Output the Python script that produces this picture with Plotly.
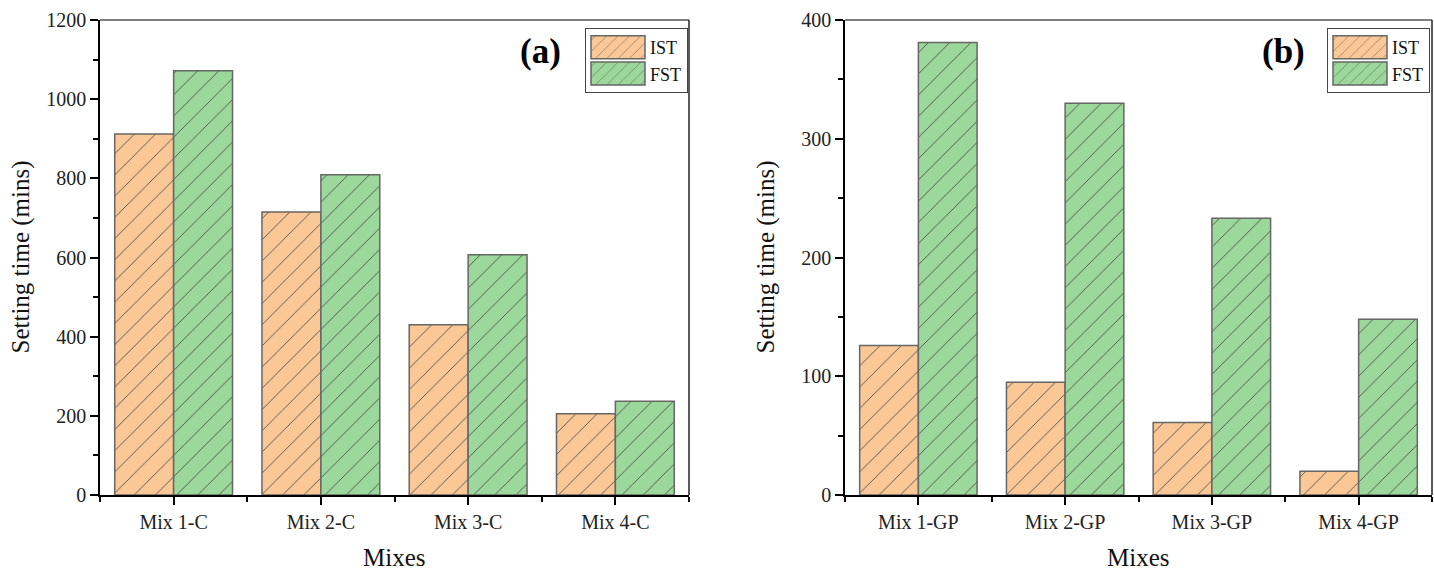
import plotly.graph_objects as go

# Setting times (minutes) for the cement (C) and geopolymer (GP) mixes
mixes_c = ["Mix 1-C", "Mix 2-C", "Mix 3-C", "Mix 4-C"]
ist_c = [912, 715, 430, 205]
fst_c = [1072, 809, 607, 237]

mixes_gp = ["Mix 1-GP", "Mix 2-GP", "Mix 3-GP", "Mix 4-GP"]
ist_gp = [126, 95, 61, 20]
fst_gp = [381, 330, 233, 148]

series_names = ["IST", "FST"]
panel_labels = ["(a)", "(b)"]

FONT = "Liberation Serif, Times New Roman, serif"
ORANGE = "#FAC896"
GREEN = "#9CD79B"
EDGE = "#666666"
HATCH = "#444444"

W, H = 1434, 570
x_dom = [(100 / W, 689 / W), (845 / W, 1432 / W)]
y_dom = ((570 - 495) / H, (570 - 20) / H)

fig = go.Figure()


def add_panel(idx, cats, ist, fst, ymax, ydt, legend_name):
    xa = "x" if idx == 0 else "x2"
    ya = "y" if idx == 0 else "y2"
    pos = list(range(len(cats)))
    for name, vals, col in zip(series_names, [ist, fst], [ORANGE, GREEN]):
        fig.add_trace(go.Bar(
            x=pos, y=vals, name=name, xaxis=xa, yaxis=ya,
            offsetgroup=name, legend=legend_name,
            marker=dict(color=col, line=dict(color=EDGE, width=1.5),
                        pattern=dict(shape="/", fgcolor=HATCH, bgcolor=col,
                                     size=15, solidity=0.055, fillmode="replace")),
        ))
    ax_common = dict(showline=True, linecolor="black", linewidth=1.5,
                     ticks="outside", tickcolor="black", tickwidth=1.5,
                     showgrid=False, zeroline=False, automargin=False,
                     tickfont=dict(family=FONT, size=20, color="#222"))
    xkey = "xaxis" if idx == 0 else "xaxis2"
    ykey = "yaxis" if idx == 0 else "yaxis2"
    fig.update_layout(**{
        xkey: dict(ax_common, domain=x_dom[idx], anchor=ya, range=[-0.5, 3.5],
                   tickmode="array", tickvals=pos, ticktext=cats, ticklen=8,
                   minor=dict(tickmode="array",
                              tickvals=[p - 0.5 for p in pos] + [pos[-1] + 0.5],
                              ticklen=5, tickwidth=1.5, tickcolor="black", ticks="outside")),
        ykey: dict(ax_common, domain=y_dom, anchor=xa, range=[0, ymax],
                   tickmode="linear", tick0=0, dtick=ydt, ticklen=8,
                   minor=dict(dtick=ydt / 2, ticklen=5, tickwidth=1.5,
                              tickcolor="black", ticks="outside")),
    })
    x0, x1 = x_dom[idx]
    # frame: top and right edges
    fig.add_shape(type="line", xref="paper", yref="paper", x0=x0, x1=x1,
                  y0=y_dom[1], y1=y_dom[1], line=dict(color="#555", width=1.5))
    fig.add_shape(type="line", xref="paper", yref="paper", x0=x1, x1=x1,
                  y0=y_dom[0], y1=y_dom[1], line=dict(color="#222", width=1.5))
    # axis titles
    fig.add_annotation(text="Setting time (mins)", xref="paper", yref="paper",
                       x=(x0 * W - 80) / W, y=(y_dom[0] + y_dom[1]) / 2, textangle=-90,
                       xanchor="center", yanchor="middle",
                       showarrow=False, font=dict(family=FONT, size=25, color="#111"))
    fig.add_annotation(text="Mixes", xref="paper", yref="paper",
                       x=(x0 + x1) / 2, y=(570 - 557) / H,
                       xanchor="center", yanchor="middle",
                       showarrow=False, font=dict(family=FONT, size=25, color="#111"))
    # panel label
    fig.add_annotation(text="<b>%s</b>" % panel_labels[idx], xref="paper", yref="paper",
                       x=(x1 * W - 149) / W, y=(570 - 52) / H,
                       xanchor="center", yanchor="middle",
                       showarrow=False, font=dict(family=FONT, size=35, color="black"))


add_panel(0, mixes_c, ist_c, fst_c, 1200, 200, "legend")
add_panel(1, mixes_gp, ist_gp, fst_gp, 400, 100, "legend2")

leg = dict(xanchor="right", yanchor="top", bgcolor="white",
           bordercolor="#444", borderwidth=1, tracegroupgap=0, itemwidth=54,
           font=dict(family=FONT, size=18, color="#111"))
fig.update_layout(
    width=W, height=H, margin=dict(l=0, r=0, t=0, b=0),
    paper_bgcolor="white", plot_bgcolor="white",
    barmode="group", bargap=0.2, bargroupgap=0,
    legend=dict(leg, x=688 / W, y=(570 - 28) / H),
    legend2=dict(leg, x=1430 / W, y=(570 - 28) / H),
)

# widen the legend swatches into wide hatched boxes
swatch_js = """
var gd = document.getElementById('{plot_id}');
function widenSwatches() {
  gd.querySelectorAll('.legendpoints path').forEach(function (p) {
    p.setAttribute('d', 'M27,11.5H-27V-11.5H27Z');
  });
}
widenSwatches();
gd.on('plotly_afterplot', widenSwatches);
"""

fig.write_html("out.html", post_script=swatch_js)
